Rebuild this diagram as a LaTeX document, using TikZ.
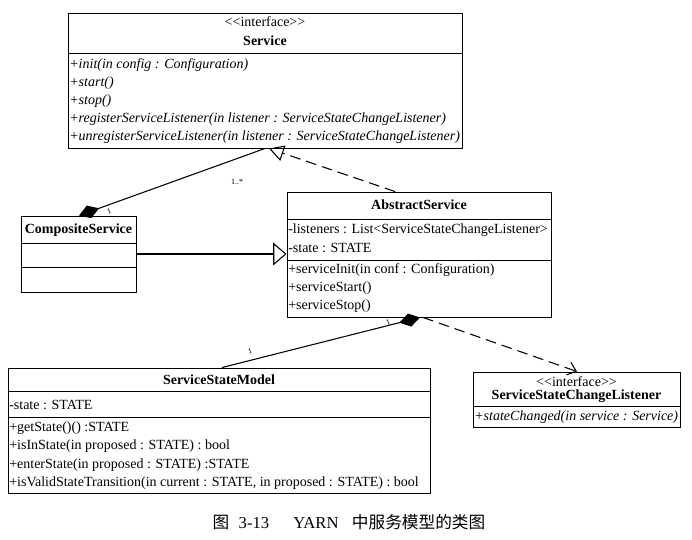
\documentclass[tikz,border=0pt]{standalone}
\usepackage{fontspec}
\setmainfont{Liberation Serif}
\newfontfamily\cjk{Noto Sans CJK SC}
\usetikzlibrary{arrows.meta, fit}

\tikzset{
	classbox/.style = {draw, line width = 0.7pt, inner sep = 0pt},
	member/.style = {anchor = west, inner sep = 0pt, font = \fontsize{10.5}{12}\selectfont},
	operation/.style = {member, font = \fontsize{10.5}{12}\selectfont\itshape},
	classname/.style = {inner sep = 0pt, font = \fontsize{10.5}{12}\selectfont\bfseries},
	stereotype/.style = {inner sep = 0pt, font = \fontsize{10.5}{12}\selectfont},
	multiplicity/.style = {inner sep = 0pt, font = \fontsize{6}{7}\selectfont},
	link/.style = {line width = 0.8pt},
	realize/.style = {link, dash pattern = on 8pt off 4.5pt}
}

\begin{document}
\begin{tikzpicture}[x = 0.75pt, y = -0.75pt]

	\useasboundingbox (0, 0) rectangle (692, 539);

	% Interface Service

	\node [classbox, fit = {(68, 13) (462, 148)}] (service) {};
	\node [stereotype] (service-st) at (service.north |- 0, 22) {<{}<interface>{}>};
	\node [classname] (service-name) at (service.north |- 0, 41) {Service};
	\draw [line width = 0.7pt] (service.west |- 0, 53) -- (service.east |- 0, 53);

	\foreach \op [count = \i] in {
		{+init(in config : Configuration)},
		{+start()},
		{+stop()},
		{+registerServiceListener(in listener : ServiceStateChangeListener)},
		{+unregisterServiceListener(in listener : ServiceStateChangeListener)}}
	{
		\node [operation] (service-op\i) at (69, {47 + 18 * \i}) {\op};
	}

	% CompositeService

	\node [classbox, fit = {(21, 216) (136, 292)}] (composite) {};
	\node [classname] (composite-name) at (composite.north |- 0, 230) {CompositeService};
	\draw [line width = 0.7pt] (composite.west |- 0, 243) -- (composite.east |- 0, 243);
	\draw [line width = 0.7pt] (composite.west |- 0, 267) -- (composite.east |- 0, 267);

	% AbstractService

	\node [classbox, fit = {(287, 192) (551, 317)}] (abstract) {};
	\node [classname] (abstract-name) at (abstract.north |- 0, 205) {AbstractService};
	\draw [line width = 0.7pt] (abstract.west |- 0, 219) -- (abstract.east |- 0, 219);
	\node [member] (abstract-at1) at (288, 230) {-listeners : List<ServiceStateChangeListener>};
	\node [member] (abstract-at2) at (288, 248) {-state : STATE};
	\draw [line width = 0.7pt] (abstract.west |- 0, 260) -- (abstract.east |- 0, 260);

	\foreach \op [count = \i] in {
		{+serviceInit(in conf : Configuration)},
		{+serviceStart()},
		{+serviceStop()}}
	{
		\node [member] (abstract-op\i) at (288, {252 + 18 * \i}) {\op};
	}

	% ServiceStateModel

	\node [classbox, fit = {(8, 368) (430, 493)}] (model) {};
	\node [classname] (model-name) at (model.north |- 0, 380) {ServiceStateModel};
	\draw [line width = 0.7pt] (model.west |- 0, 391) -- (model.east |- 0, 391);
	\node [member] (model-at1) at (9, 405) {-state : STATE};
	\draw [line width = 0.7pt] (model.west |- 0, 417) -- (model.east |- 0, 417);

	\foreach \op [count = \i] in {
		{+getState()() :STATE},
		{+isInState(in proposed : STATE) : bool},
		{+enterState(in proposed : STATE) :STATE},
		{+isValidStateTransition(in current : STATE, in proposed : STATE) : bool}}
	{
		\node [member] (model-op\i) at (9, {410 + 18.3 * \i}) {\op};
	}

	% Interface ServiceStateChangeListener

	\node [classbox, fit = {(473, 372) (680, 427)}] (listener) {};
	\node [stereotype] (listener-st) at (listener.north |- 0, 382) {<{}<interface>{}>};
	\node [classname] (listener-name) at (listener.north |- 0, 396) {ServiceStateChangeListener};
	\draw [line width = 0.7pt] (listener.west |- 0, 406) -- (listener.east |- 0, 406);
	\node [operation] (listener-op1) at (474, 417) {+stateChanged(in service : Service)};

	% Relations

	\draw [link, {Diamond[length = 16pt, width = 10pt]}-] (79, 0 |- composite.north) -- (265, 0 |- service.south);
	\node [multiplicity, rotate = 20] (comp-m1) at (109, 211) {1};
	\node [multiplicity] (comp-m2) at (237, 182) {1..*};

	\draw [realize, -{Triangle[open, length = 11pt, width = 12pt]}] (395, 0 |- abstract.north) -- (269, 0 |- service.south);

	\draw [link, -{Triangle[open, length = 10pt, width = 17pt]}] (composite.east |- 0, 254) -- (abstract.west |- 0, 254);

	\draw [link, {Diamond[length = 16pt, width = 10pt]}-] (420, 0 |- abstract.south) -- (222, 0 |- model.north);
	\node [multiplicity, rotate = 20] (model-m1) at (388, 322) {1};
	\node [multiplicity, rotate = 20] (model-m2) at (250, 351) {1};

	\draw [realize, -{Straight Barb[length = 6pt, width = 10pt]}] (423, 0 |- abstract.south) -- (577, 0 |- listener.north);

	% Caption

	\node [inner sep = 0pt, font = \fontsize{12.5}{14}\selectfont] (caption) at (349, 522)
		{{\cjk 图}\hspace{7pt}3-13\hspace{18pt}YARN\hspace{10pt}{\cjk 中服务模型的类图}};

\end{tikzpicture}
\end{document}
